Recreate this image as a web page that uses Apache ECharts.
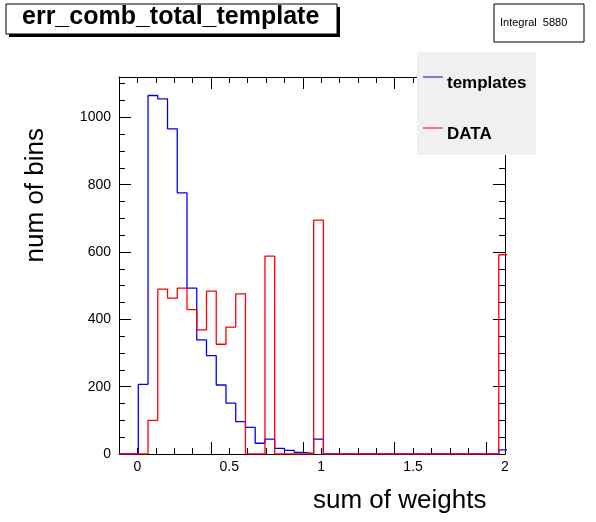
<!DOCTYPE html>
<html style="height: 100%">
<head>
    <meta charset="utf-8">
    <title>err_comb_total_template</title>
</head>
<body style="height: 100%; margin: 0; background: #fff">
    <div id="container" style="width: 596px; height: 522px"></div>
    <script type="text/javascript" src="https://cdn.jsdelivr.net/npm/echarts@6/dist/echarts.min.js"></script>
    <script type="text/javascript">
        // histogram binning
        var binStart = 0.005;
        var binWidth = 0.053;
        var templates = [207, 1065, 1055, 966, 776, 493, 339, 292, 205, 151, 96, 79, 32, 44, 17, 11, 5, 2, 44,
            0, 0, 0, 0, 0, 0, 0, 0, 0, 0, 0, 0, 0, 0, 0, 0, 0, 0, 12];
        var dataHist = [0, 100, 490, 463, 493, 429, 369, 484, 326, 377, 476, 0, 0, 588, 0, 0, 0, 0, 695,
            0, 0, 0, 0, 0, 0, 0, 0, 0, 0, 0, 0, 0, 0, 0, 0, 0, 0, 592];
        var xTicks = [0, 0.5, 1, 1.5, 2];
        var yTicks = [0, 200, 400, 600, 800, 1000];

        function steps(vals) {
            var pts = [[-0.1, 0]];
            for (var i = 0; i < vals.length; i++) {
                pts.push([binStart + i * binWidth, vals[i]]);
            }
            pts.push([binStart + vals.length * binWidth, 0]);
            return pts;
        }

        var dom = document.getElementById("container");
        var myChart = echarts.init(dom);
        var font = 'Liberation Sans, Arial, sans-serif';
        var tickStyle = { show: true, inside: true, length: 12, lineStyle: { color: '#000' } };
        var minorStyle = { show: true, splitNumber: 5, length: 6, lineStyle: { color: '#000' } };

        var option = {
            animation: false,
            grid: { left: 119, right: 91, top: 77, bottom: 68 },
            graphic: [
                { type: 'rect', shape: { x: 9, y: 7, width: 331, height: 30 },
                  style: { fill: '#000' } },
                { type: 'rect', shape: { x: 6, y: 4, width: 331, height: 30 },
                  style: { fill: '#fff', stroke: '#000', lineWidth: 1 } },
                { type: 'text', left: 22, top: 5, style: { text: 'err_comb_total_template',
                  font: 'bold 25px ' + font, fill: '#000' } },
                { type: 'rect', shape: { x: 494, y: 4, width: 90, height: 38 },
                  style: { fill: '#fff', stroke: '#000', lineWidth: 1 } },
                { type: 'text', left: 500, top: 17, style: { text: 'Integral  5880',
                  font: '11px ' + font, fill: '#000' } },
                { type: 'rect', z: 10, shape: { x: 417, y: 52, width: 119, height: 103 },
                  style: { fill: '#f0f0f0' } },
                { type: 'line', z: 11, shape: { x1: 423, y1: 77, x2: 443, y2: 77 },
                  style: { stroke: '#0000ff', lineWidth: 1 } },
                { type: 'text', z: 11, left: 447, top: 75, style: { text: 'templates',
                  font: 'bold 17px ' + font, fill: '#000' } },
                { type: 'line', z: 11, shape: { x1: 423, y1: 128, x2: 443, y2: 128 },
                  style: { stroke: '#ff0000', lineWidth: 1 } },
                { type: 'text', z: 11, left: 447, top: 126, style: { text: 'DATA',
                  font: 'bold 17px ' + font, fill: '#000' } },
                { type: 'text', left: 313, top: 488, style: { text: 'sum of weights',
                  font: '26px ' + font, fill: '#000' } },
                { type: 'text', left: 23, top: 128, rotation: Math.PI / 2, style: { text: 'num of bins',
                  font: '26px ' + font, fill: '#000' } }
            ],
            xAxis: [{
                type: 'value', min: -0.1, max: 2.0, interval: 0.5,
                axisLine: { onZero: false, lineStyle: { color: '#000' } },
                axisTick: tickStyle, minorTick: minorStyle,
                splitLine: { show: false },
                axisLabel: { color: '#000', fontSize: 14, fontFamily: font, margin: 6,
                    customValues: xTicks,
                    formatter: function (v) { return String(Math.round(v * 10) / 10); } }
            }, {
                type: 'value', min: -0.1, max: 2.0, interval: 0.5, position: 'top',
                axisLine: { onZero: false, lineStyle: { color: '#000' } },
                axisTick: tickStyle, minorTick: minorStyle,
                splitLine: { show: false }, axisLabel: { show: false }
            }],
            yAxis: [{
                type: 'value', min: 0, max: 1120, interval: 200,
                axisLine: { show: true, onZero: false, lineStyle: { color: '#000' } },
                axisTick: tickStyle, minorTick: { show: true, splitNumber: 4, length: 6, lineStyle: { color: '#000' } },
                splitLine: { show: false },
                axisLabel: { color: '#000', fontSize: 14, fontFamily: font, margin: 8,
                    customValues: yTicks,
                    formatter: function (v) { return String(v); } }
            }, {
                type: 'value', min: 0, max: 1120, interval: 200, position: 'right',
                axisLine: { show: true, onZero: false, lineStyle: { color: '#000' } },
                axisTick: tickStyle, minorTick: { show: true, splitNumber: 4, length: 6, lineStyle: { color: '#000' } },
                splitLine: { show: false }, axisLabel: { show: false }
            }],
            series: [{
                name: 'templates', type: 'line', step: 'end', showSymbol: false,
                data: steps(templates), clip: true,
                lineStyle: { color: '#0000ff', width: 1.3 }
            }, {
                name: 'DATA', type: 'line', step: 'end', showSymbol: false,
                data: steps(dataHist), clip: true,
                lineStyle: { color: '#ff0000', width: 1.3 }
            }]
        };
        myChart.setOption(option, true);
    </script>
</body>
</html>
